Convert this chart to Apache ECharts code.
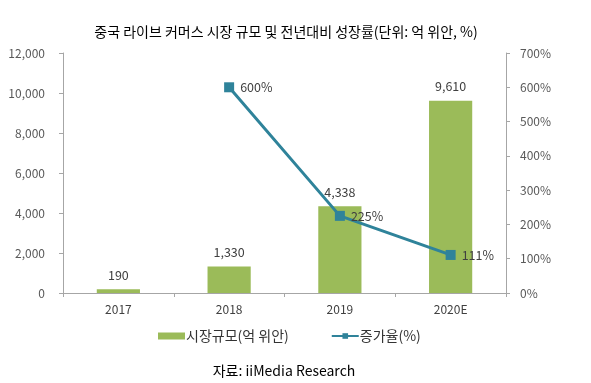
<!DOCTYPE html>
<html><head><meta charset="utf-8">
<script src="https://cdn.jsdelivr.net/npm/echarts@6/dist/echarts.min.js"></script>
<style>html,body{margin:0;padding:0;background:#fff}#c{width:591px;height:383px}</style>
</head><body><div id="c"></div>
<script>
const categories = ['2017', '2018', '2019', '2020E'];
const marketSize = [190, 1330, 4338, 9610];
const growthRate = [null, 600, 225, 111];
const leftTicks = [0, 2000, 4000, 6000, 8000, 10000, 12000];
const rightTicks = [0, 100, 200, 300, 400, 500, 600, 700];

const FONT = '"Noto Sans CJK KR", "Noto Sans", sans-serif';
const chart = echarts.init(document.getElementById('c'));
chart.setOption({
  animation: false,
  textStyle: { fontFamily: FONT },
  title: [
    { text: '중국 라이브 커머스 시장 규모 및 전년대비 성장률(단위: 억 위안, %)', left: 281, textAlign: 'center', top: 20,
      textStyle: { fontSize: 14, fontWeight: 'normal', color: '#000', fontFamily: FONT } },
    { text: '자료: iiMedia Research', left: 279, textAlign: 'center', top: 359,
      textStyle: { fontSize: 14, fontWeight: 'normal', color: '#000', fontFamily: FONT } }
  ],
  legend: {
    top: 324, left: 153, itemGap: 42, itemWidth: 27, itemHeight: 7,
    textStyle: { fontSize: 14, color: '#333', fontFamily: FONT, padding: [0,0,0,-4] },
    data: [
      { name: '시장규모(억 위안)', icon: 'rect' },
      { name: '증가율(%)' }
    ]
  },
  grid: { left: 63, right: 85, top: 53, bottom: 90 },
  xAxis: {
    type: 'category', data: categories,
    axisLine: { lineStyle: { color: '#a6a6a6' } },
    axisTick: { show: true, alignWithLabel: false, length: 4, lineStyle: { color: '#a6a6a6' } },
    axisLabel: { color: '#404040', fontSize: 12, margin: 10, fontFamily: FONT }
  },
  yAxis: [
    { type: 'value', min: 0, max: 12000, interval: 2000, position: 'left',
      axisLine: { show: true, lineStyle: { color: '#a6a6a6' } },
      axisTick: { show: true, length: 4, lineStyle: { color: '#a6a6a6' } },
      splitLine: { show: false },
      axisLabel: { color: '#595959', fontSize: 12, margin: 18, fontFamily: FONT,
        formatter: v => v.toLocaleString('en-US') } },
    { type: 'value', min: 0, max: 700, interval: 100, position: 'right',
      axisLine: { show: true, lineStyle: { color: '#a6a6a6' } },
      axisTick: { show: true, length: 4, lineStyle: { color: '#a6a6a6' } },
      splitLine: { show: false },
      axisLabel: { color: '#595959', fontSize: 12, margin: 14, fontFamily: FONT,
        formatter: v => v + '%' } }
  ],
  series: [
    { name: '시장규모(억 위안)', type: 'bar', data: marketSize, barWidth: '39%',
      itemStyle: { color: '#9bbb59' },
      label: { show: true, position: 'top', distance: 8, color: '#404040', fontSize: 12.5, fontFamily: FONT,
        formatter: p => p.value.toLocaleString('en-US') } },
    { name: '증가율(%)', type: 'line', yAxisIndex: 1, data: growthRate,
      symbol: 'rect', symbolSize: 10,
      lineStyle: { color: '#2f839a', width: 3 },
      itemStyle: { color: '#2f839a' },
      label: { show: true, position: 'right', distance: 6, color: '#404040', fontSize: 12.5, fontFamily: FONT,
        formatter: p => p.value + '%' } }
  ]
});
</script></body></html>
